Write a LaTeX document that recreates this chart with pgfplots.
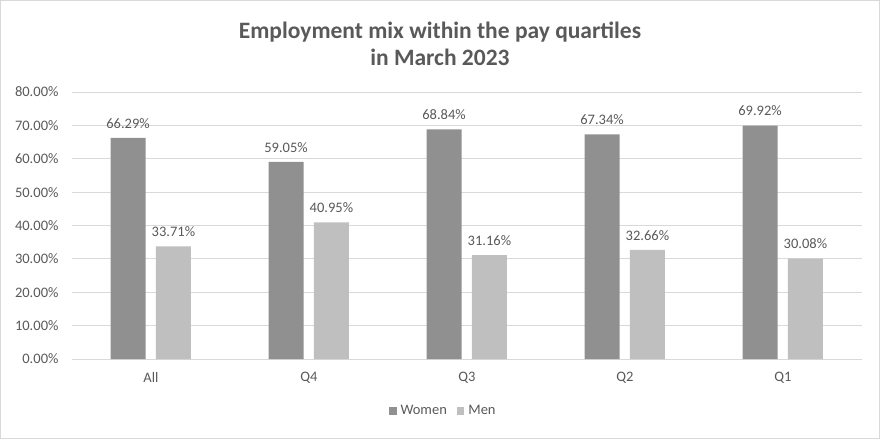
\documentclass[border=0pt]{standalone}
\usepackage{pgfplots}
\pgfplotsset{compat=1.18}
\usepackage{fontspec}
\setmainfont{Carlito}
\definecolor{txt}{HTML}{595959}
\definecolor{gridc}{HTML}{D9D9D9}
\definecolor{women}{HTML}{909090}
\definecolor{men}{HTML}{BFBFBF}
\pgfplotsset{/pgf/number format/assume math mode=true}
\begin{document}
\begin{tikzpicture}
\path[use as bounding box] (0pt,0pt) rectangle (880pt,439pt);
\draw[gridc, line width=1pt] (0.5pt,0.5pt) rectangle (879.5pt,438.5pt);
\node[align=center, text=txt, font=\fontsize{23.5}{27}\selectfont\bfseries] at (440pt,395.5pt)
  {Employment mix within the pay quartiles\\in March 2023};
\begin{axis}[
    at={(72pt,80pt)}, anchor=south west,
    scale only axis, width=790pt, height=267pt,
    ymin=0, ymax=80, ytick distance=10,
    xmin=-0.5, xmax=4.5,
    xtick={0,1,2,3,4},
    xticklabels={All,Q4,Q3,Q2,Q1},
    ybar, bar width=0.222,
    axis x line*=bottom, axis y line*=left,
    y axis line style={draw=none},
    x axis line style={draw=gridc, line width=0.8pt, -},
    major tick length=0pt,
    ymajorgrids, major grid style={draw=gridc, line width=0.8pt},
    ticklabel style={text=txt, font=\fontsize{14.5}{17}\selectfont},
    yticklabel={\pgfmathprintnumber[fixed,fixed zerofill,precision=2]{\tick}\%},
    yticklabel style={xshift=-10pt},
    xticklabel style={yshift=-10pt},
    nodes near coords={\pgfmathprintnumber[fixed,fixed zerofill,precision=2]{\pgfplotspointmeta}\%},
    every node near coord/.append style={text=txt, font=\fontsize{14.5}{17}\selectfont, yshift=6pt},
    legend style={at={(0.47,-0.195)}, anchor=center, draw=none, fill=none,
      legend columns=2, text=txt, font=\fontsize{14.5}{17}\selectfont,
      /tikz/every odd column/.append style={column sep=2pt},
      /tikz/every even column/.append style={column sep=8pt}},
    legend image code/.code={\fill[#1] (0pt,-3.5pt) rectangle (7.5pt,4pt);},
  ]
  \addplot[fill=women, draw=none, bar shift=-0.145] coordinates {(0,66.29) (1,59.05) (2,68.84) (3,67.34) (4,69.92)};
  \addplot[fill=men, draw=none, bar shift=0.142] coordinates {(0,33.71) (1,40.95) (2,31.16) (3,32.66) (4,30.08)};
  \legend{Women, Men}
\end{axis}
\end{tikzpicture}
\end{document}
